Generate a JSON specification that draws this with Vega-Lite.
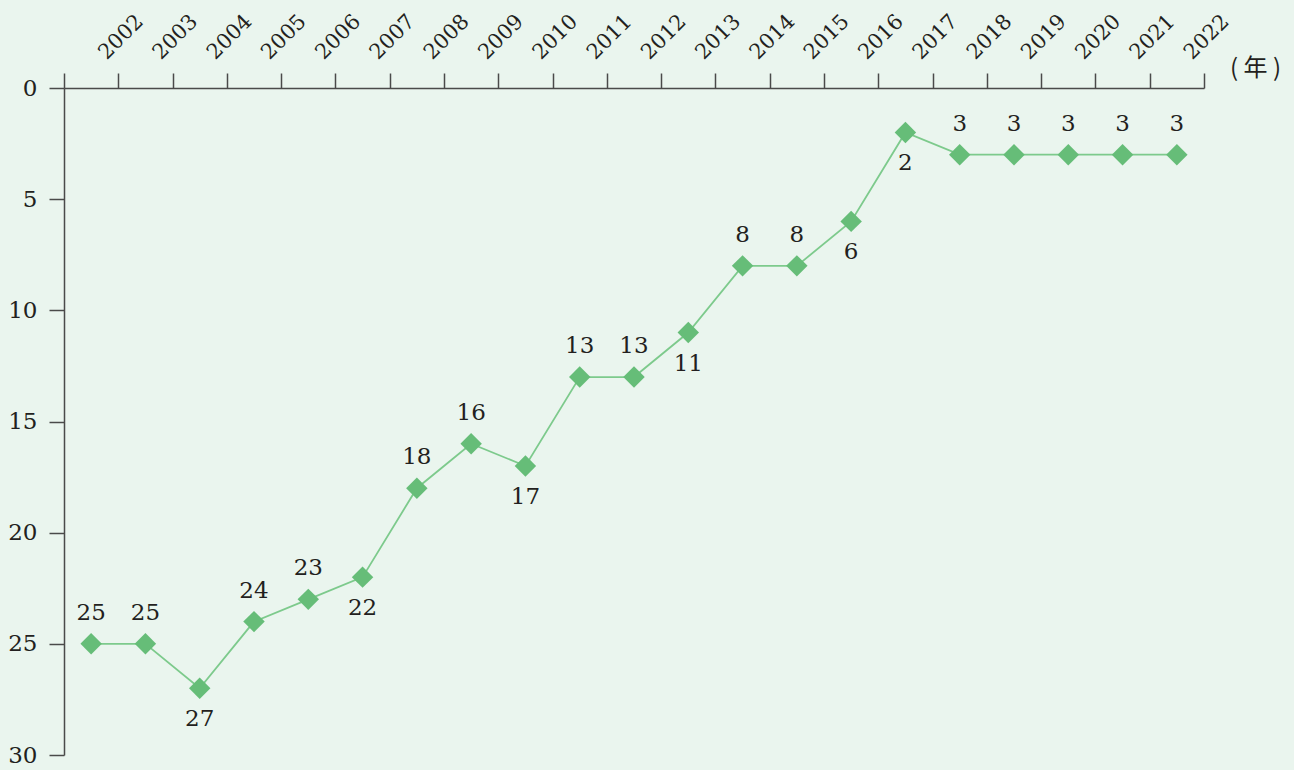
{
  "$schema": "https://vega.github.io/schema/vega-lite/v6.json",
  "width": 1140,
  "height": 667,
  "autosize": {"type": "none"},
  "padding": {"left": 64, "top": 88, "right": 90, "bottom": 15},
  "background": "#eaf5ee",
  "config": {
    "view": {"stroke": null},
    "axis": {
      "domainColor": "#4a4a4a",
      "domainWidth": 1.5,
      "tickColor": "#4a4a4a",
      "tickWidth": 1.5,
      "tickSize": 15,
      "grid": false,
      "labelFont": "DejaVu Serif",
      "labelColor": "#231f20"
    }
  },
  "data": {
    "values": [
      {"year": "2002", "rank": 25},
      {"year": "2003", "rank": 25},
      {"year": "2004", "rank": 27},
      {"year": "2005", "rank": 24},
      {"year": "2006", "rank": 23},
      {"year": "2007", "rank": 22},
      {"year": "2008", "rank": 18},
      {"year": "2009", "rank": 16},
      {"year": "2010", "rank": 17},
      {"year": "2011", "rank": 13},
      {"year": "2012", "rank": 13},
      {"year": "2013", "rank": 11},
      {"year": "2014", "rank": 8},
      {"year": "2015", "rank": 8},
      {"year": "2016", "rank": 6},
      {"year": "2017", "rank": 2},
      {"year": "2018", "rank": 3},
      {"year": "2019", "rank": 3},
      {"year": "2020", "rank": 3},
      {"year": "2021", "rank": 3},
      {"year": "2022", "rank": 3}
    ]
  },
  "encoding": {
    "x": {
      "field": "year",
      "type": "ordinal",
      "scale": {"type": "band", "paddingInner": 0, "paddingOuter": 0},
      "axis": {
        "orient": "top",
        "tickBand": "extent",
        "labelAngle": -45,
        "labelAlign": "left",
        "labelBaseline": "alphabetic",
        "labelOffset": 15,
        "labelPadding": 13,
        "labelFont": "DejaVu Serif",
        "labelFontSize": 21,
        "title": "( 年 )",
        "titleFont": "Noto Sans CJK SC",
        "titleFontSize": 24,
        "titleFontWeight": "normal",
        "titleColor": "#231f20",
        "titleAngle": 0,
        "titleAlign": "center",
        "titleBaseline": "middle",
        "titleX": 1191,
        "titleY": -20
      }
    },
    "y": {
      "field": "rank",
      "type": "quantitative",
      "scale": {"domain": [0, 30], "reverse": true, "nice": false, "zero": false},
      "axis": {
        "values": [0, 5, 10, 15, 20, 25, 30],
        "title": null,
        "labelFont": "DejaVu Serif",
        "labelFontSize": 23,
        "labelPadding": 12
      }
    }
  },
  "layer": [
    {
      "mark": {"type": "line", "color": "#7dca8c", "strokeWidth": 1.8}
    },
    {
      "mark": {"type": "point", "shape": "diamond", "filled": true, "size": 460, "color": "#66bd78", "opacity": 1}
    },
    {
      "transform": [{"filter": {"not": {"field": "year", "oneOf": ["2004", "2007", "2010", "2013", "2016", "2017"]}}}],
      "mark": {"type": "text", "dy": -31, "baseline": "middle", "font": "DejaVu Serif", "fontSize": 23, "color": "#231f20"},
      "encoding": {"text": {"field": "rank", "type": "quantitative"}}
    },
    {
      "transform": [{"filter": {"field": "year", "oneOf": ["2004", "2007", "2010", "2013", "2016", "2017"]}}],
      "mark": {"type": "text", "dy": 31, "baseline": "middle", "font": "DejaVu Serif", "fontSize": 23, "color": "#231f20"},
      "encoding": {"text": {"field": "rank", "type": "quantitative"}}
    }
  ]
}
